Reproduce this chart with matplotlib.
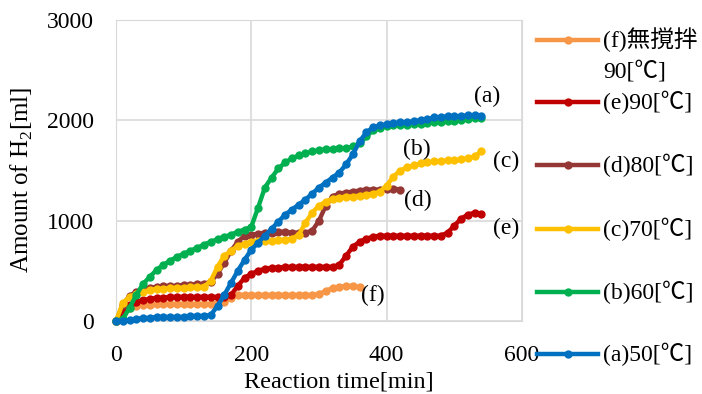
"""
反応時間と水素発生量のグラフ (a)~(f)
"""
import matplotlib
matplotlib.use('Agg')
import matplotlib.pyplot as plt
from matplotlib.lines import Line2D

plt.rcParams['font.family'] = ['Liberation Serif', 'Noto Sans CJK JP']
plt.rcParams['mathtext.fontset'] = 'custom'
plt.rcParams['mathtext.rm'] = 'Liberation Serif'

# 反応時間 [min]
time = list(range(0, 550, 10))

# (a) 50℃
h2_a = [0, 0, 10, 20, 30, 30, 40, 40, 40, 40, 40, 50, 50, 50, 60, 150, 260, 380, 500, 610,
        710, 780, 850, 920, 990, 1060, 1110, 1160, 1210, 1270, 1330, 1380, 1430, 1480, 1560,
        1660, 1790, 1880, 1930, 1950, 1960, 1970, 1980, 1980, 1990, 2000, 2010, 2030, 2030,
        2040, 2040, 2040, 2050, 2050, 2040]
# (b) 60℃
h2_b = [0, 20, 130, 260, 370, 440, 510, 560, 600, 640, 670, 700, 730, 760, 790, 815, 840,
        860, 890, 910, 940, 1130, 1330, 1430, 1520, 1580, 1620, 1650, 1670, 1690, 1700, 1710,
        1710, 1720, 1720, 1740, 1770, 1840, 1900, 1920, 1940, 1950, 1950, 1950, 1960, 1960,
        1970, 1980, 1980, 1990, 1990, 2000, 2010, 2020, 2020]
# (c) 70℃
h2_c = [0, 180, 240, 270, 290, 310, 320, 320, 330, 330, 330, 340, 340, 340, 400, 540, 650,
        700, 750, 770, 790, 800, 800, 800, 810, 810, 820, 860, 980, 1080, 1150, 1190, 1220,
        1230, 1240, 1240, 1250, 1260, 1270, 1290, 1350, 1440, 1500, 1530, 1550, 1570, 1580,
        1590, 1590, 1600, 1600, 1610, 1620, 1640, 1690]
# (d) 80℃ (420分まで)
h2_d = [0, 160, 250, 290, 320, 330, 340, 350, 350, 350, 360, 360, 370, 370, 390, 470, 580,
        700, 790, 850, 860, 870, 880, 880, 890, 890, 880, 880, 880, 900, 1000, 1150, 1240,
        1270, 1280, 1290, 1300, 1310, 1310, 1310, 1320, 1320, 1310]
# (e) 90℃
h2_e = [0, 100, 160, 190, 210, 220, 230, 230, 240, 240, 240, 240, 240, 240, 240, 240, 240,
        260, 350, 430, 470, 500, 520, 530, 530, 540, 540, 540, 540, 540, 540, 540, 540, 560,
        650, 740, 790, 820, 840, 850, 850, 850, 850, 850, 850, 850, 850, 850, 850, 880, 950,
        1020, 1060, 1080, 1070]
# (f) 無撹拌 90℃ (360分まで)
h2_f = [0, 80, 130, 150, 160, 160, 170, 170, 170, 170, 170, 170, 170, 170, 170, 180, 190,
        230, 260, 260, 260, 260, 260, 260, 260, 260, 260, 260, 260, 260, 270, 300, 330, 340,
        350, 350, 340]

labels = ['(f)無撹拌', '(e)90[℃]', '(d)80[℃]', '(c)70[℃]', '(b)60[℃]', '(a)50[℃]']
tags = ['(f)', '(e)', '(d)', '(c)', '(b)', '(a)']
colors = ['#F79646', '#C00000', '#953735', '#FFC000', '#00B050', '#0070C0']
series = [h2_f, h2_e, h2_d, h2_c, h2_b, h2_a]

# 図中ラベルの位置 (データ座標)
tag_x = [379, 577, 446, 577, 444, 549]
tag_y = [257, 921, 1198, 1594, 1712, 2237]

FS = 17

fig = plt.figure(figsize=(7.02, 3.94), dpi=100)
ax = fig.add_axes([116 / 702, 73 / 394, 406 / 702, 301 / 394])

for vals, c in zip(series, colors):
    ax.plot(time[:len(vals)], vals, color=c, linewidth=3.2, marker='o',
            markersize=6, markeredgewidth=0, clip_on=False, zorder=3)

for t, x, y in zip(tags, tag_x, tag_y):
    ax.text(x, y, t, fontsize=FS, ha='center', va='center', clip_on=False)

ax.set_xlim(0, 600)
ax.set_ylim(0, 3000)
ax.set_xticks([0, 200, 400, 600])
ax.set_yticks([0, 1000, 2000, 3000])
ax.grid(True, color='#D9D9D9', linewidth=1.2)
ax.set_axisbelow(True)
for s in ax.spines.values():
    s.set_color('#D9D9D9')
ax.tick_params(length=0, labelsize=FS)
ax.tick_params(axis='y', pad=16)
ax.tick_params(axis='x', pad=17)

ax.set_xlabel('Reaction time[min]', fontsize=17.5)
ax.xaxis.set_label_coords(0.55, -0.168)
ax.set_ylabel('Amount of H$_\\mathrm{2}$[ml]', fontsize=18)
ax.yaxis.set_label_coords(-0.2, 0.47)

# 凡例 (右側に縦並び)
leg_y = [40, 102, 165, 229, 292, 354]
for lab, c, py in zip(labels, colors, leg_y):
    yf = 1 - py / 394
    fig.add_artist(Line2D([537 / 702, 598 / 702], [yf, yf], color=c, linewidth=3.2,
                          transform=fig.transFigure))
    fig.add_artist(Line2D([567.5 / 702], [yf], color=c, marker='o', markersize=6,
                          markeredgewidth=0, transform=fig.transFigure))
    fig.text(603 / 702, yf, lab, fontsize=FS, va='center', ha='left')
fig.text(603 / 702, 1 - 72 / 394, '90[℃]', fontsize=FS, va='center', ha='left')

fig.savefig('out.png', dpi=100)
